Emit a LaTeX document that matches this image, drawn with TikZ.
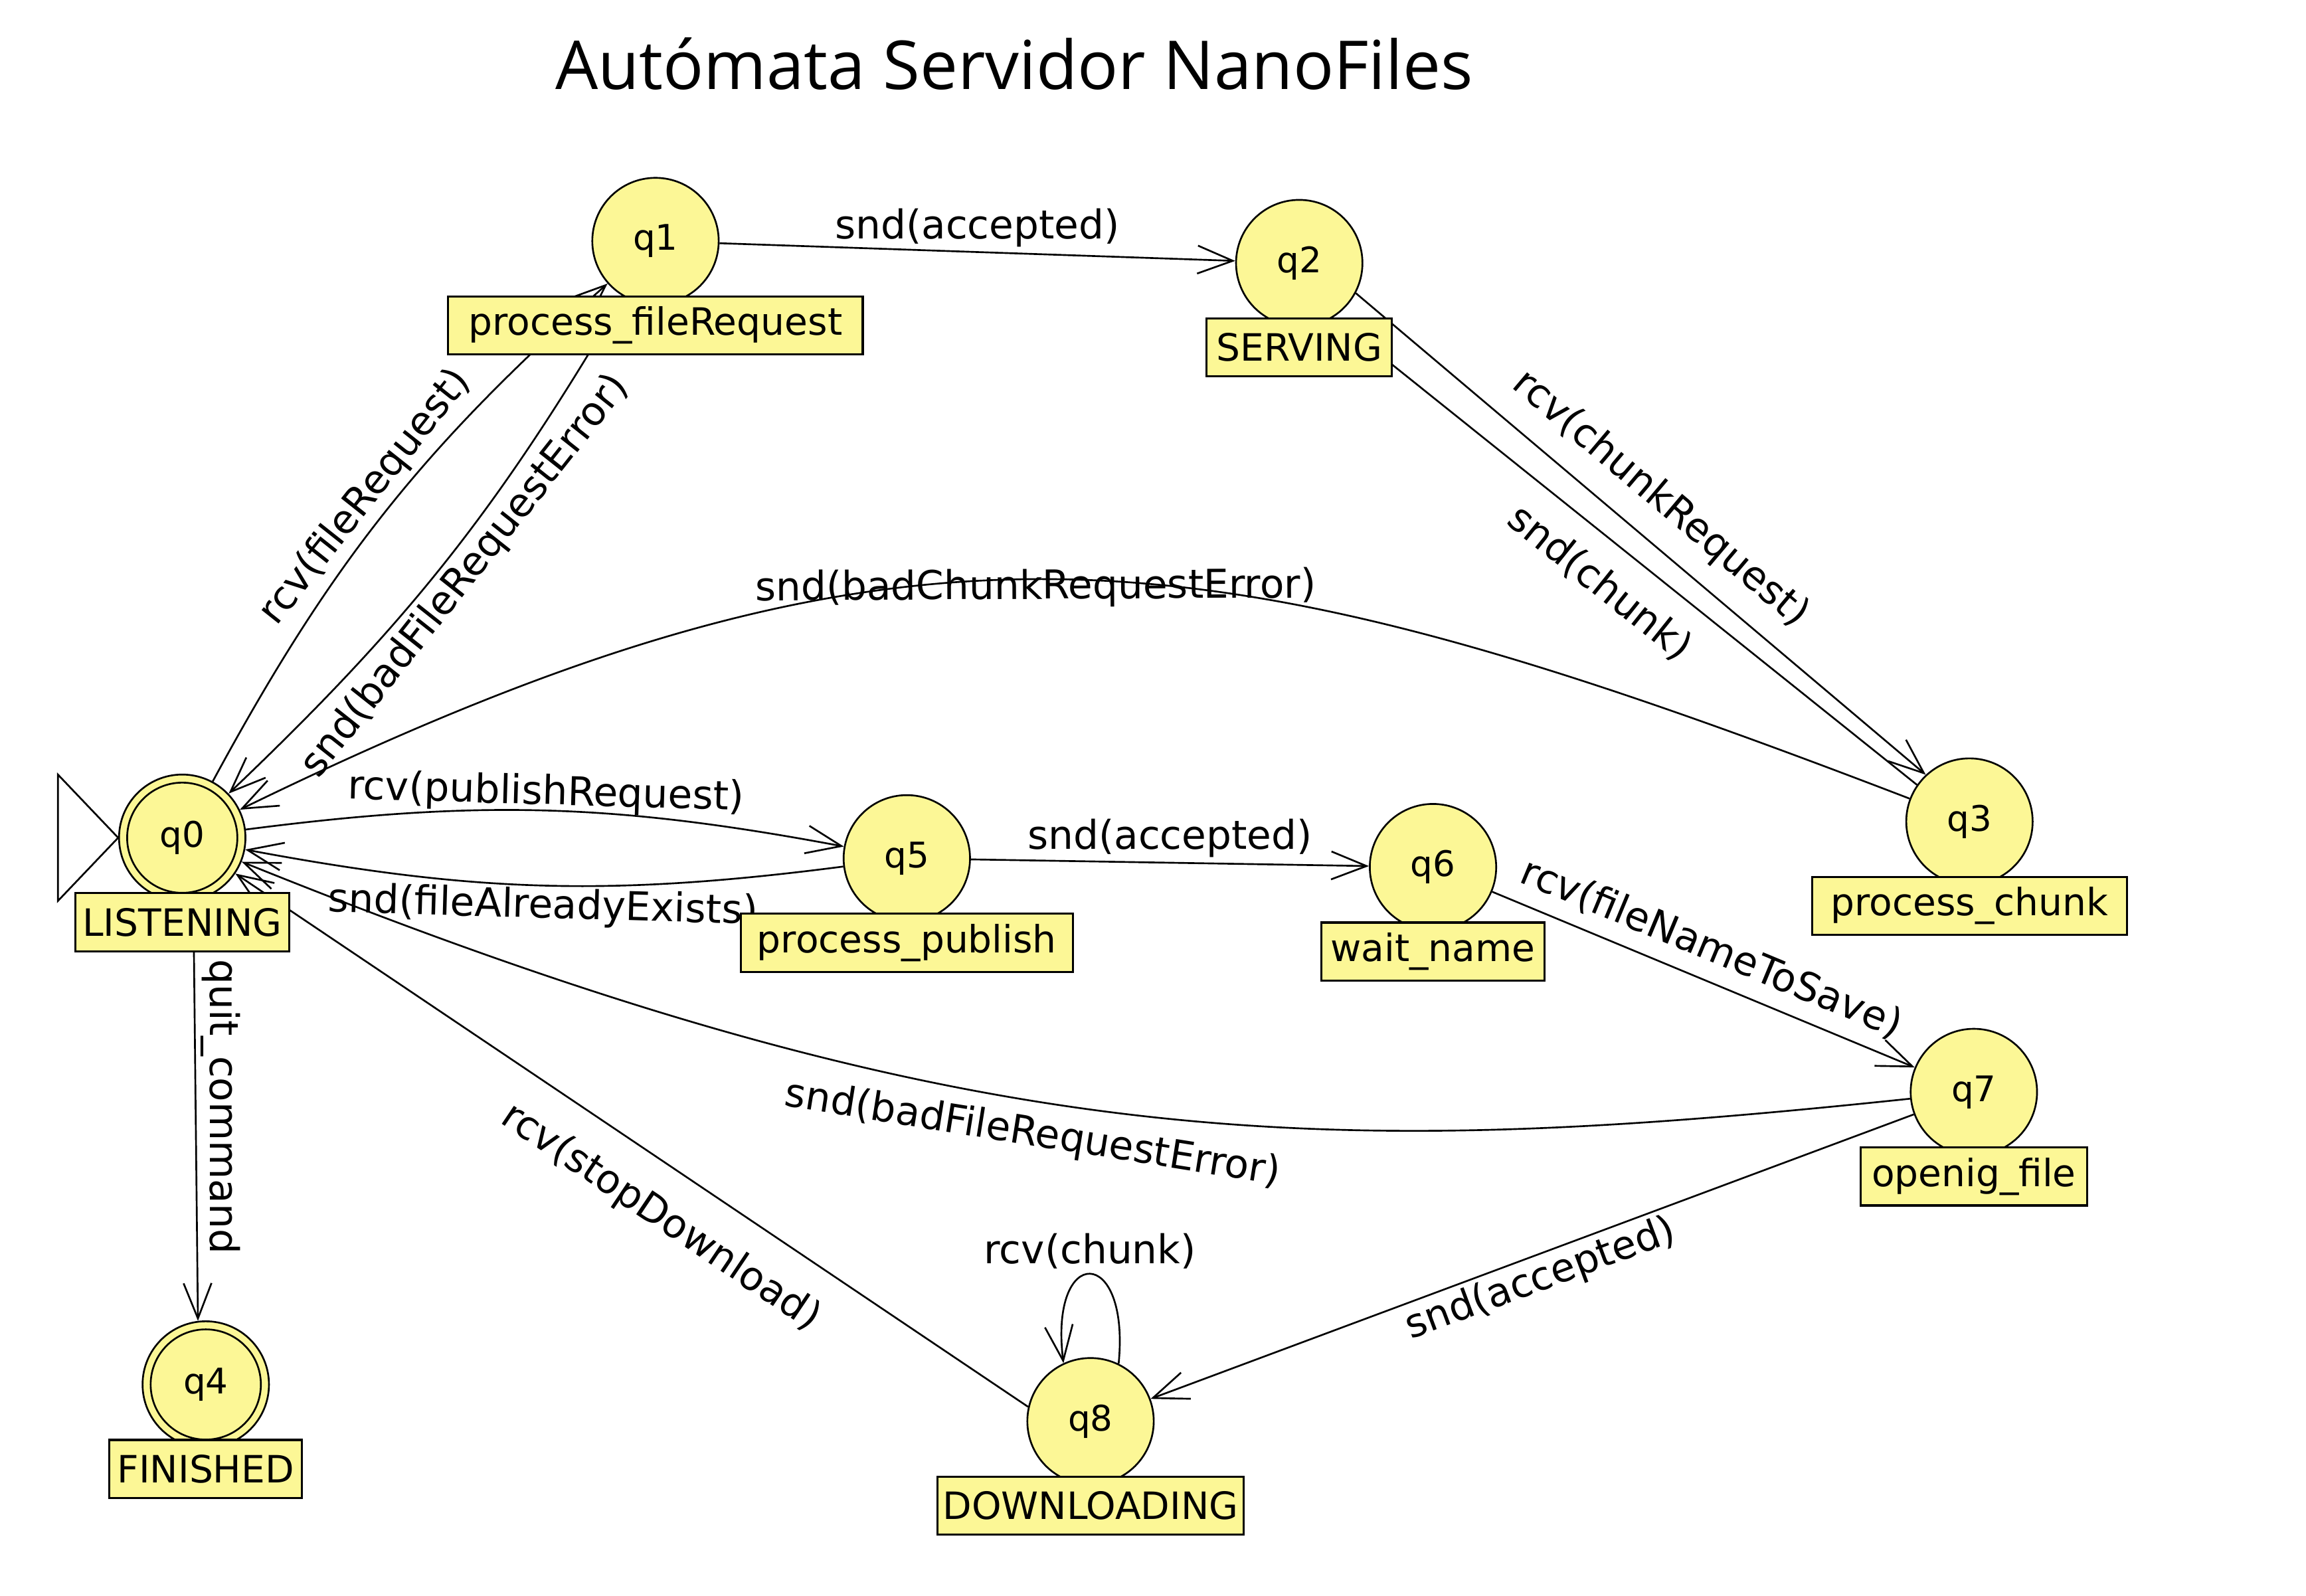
\documentclass[tikz,border=0pt]{standalone}
\usepackage{fontspec}
\setmainfont{DejaVu Sans}
\newfontfamily\titlefont{Open Sans}
\usetikzlibrary{arrows.meta,calc}
\definecolor{stfill}{RGB}{252,247,150}
\pgfdeclarelayer{bg}
\pgfsetlayers{bg,main}
\begin{document}
\begin{tikzpicture}[x=0.5pt,y=0.5pt,
  state/.style={circle,draw,fill=stfill,line width=0.6pt,minimum size=43pt,inner sep=0pt,font=\fontsize{12}{14}\selectfont},
  lbl/.style={rectangle,draw,fill=stfill,line width=0.7pt,minimum height=19.75pt,inner sep=0pt,anchor=north,font=\fontsize{12.8}{15}\selectfont},
  tr/.style={line width=0.6pt,-{Straight Barb[length=12pt,width=9.5pt]}},
  el/.style={font=\fontsize{13.5}{16}\selectfont,inner sep=1.5pt},
  ring/.style={line width=0.6pt},
]
\useasboundingbox (0,0) rectangle (1569,-1085.5);

\node[font=\titlefont\fontsize{22.95}{27}\selectfont,anchor=base] (title) at (690,-60.6) {Autómata Servidor NanoFiles};

% states
\node[state] (q0) at (124,-570) {q0};
\draw[ring] (q0.center) circle[radius=18.75pt];
\node[state] (q1) at (446,-164) {q1};
\node[state] (q2) at (884,-179) {q2};
\node[state] (q3) at (1340,-559) {q3};
\node[state] (q4) at (140,-942) {q4};
\draw[ring] (q4.center) circle[radius=18.75pt];
\node[state] (q5) at (617,-584) {q5};
\node[state] (q6) at (975,-590) {q6};
\node[state] (q7) at (1343,-743) {q7};
\node[state] (q8) at (742,-967) {q8};

% state labels
\node[lbl,minimum width=72.8pt] (l0) at ([yshift=-18.5pt]q0.center) {LISTENING};
\node[lbl,minimum width=141pt] (l1) at ([yshift=-18.5pt]q1.center) {process\_fileRequest};
\node[lbl,minimum width=63pt] (l2) at ([yshift=-18.5pt]q2.center) {SERVING};
\node[lbl,minimum width=107pt] (l3) at ([yshift=-18.5pt]q3.center) {process\_chunk};
\node[lbl,minimum width=65.5pt] (l4) at ([yshift=-18.5pt]q4.center) {FINISHED};
\node[lbl,minimum width=113pt] (l5) at ([yshift=-18.5pt]q5.center) {process\_publish};
\node[lbl,minimum width=76pt] (l6) at ([yshift=-18.5pt]q6.center) {wait\_name};
\node[lbl,minimum width=77pt] (l7) at ([yshift=-18.5pt]q7.center) {openig\_file};
\node[lbl,minimum width=104pt] (l8) at ([yshift=-18.5pt]q8.center) {DOWNLOADING};

% initial marker
\draw[ring] (q0.west) -- ++(-41,43) -- ++(0,-86) -- cycle;

\begin{pgfonlayer}{bg}
\fill[white] (0,0) rectangle (1569,-1085.5);
\draw[tr] (q0) to[bend left=10] node[el,sloped,above] {rcv(fileRequest)} (q1);
\draw[tr] (q1) to[bend left=8] node[el,sloped,below] {snd(badFileRequestError)} (q0);
\draw[tr] (q1) -- node[el,above] {snd(accepted)} (q2);
\draw[tr] (q2.-28) -- node[el,sloped,above=5pt,pos=0.49] {rcv(chunkRequest)} (q3.133);
\draw[tr] (q3.145) -- node[el,sloped,below=6pt,pos=0.5] {snd(chunk)} (q2.-58);
\draw[tr] (q3) to[out=159,in=26,looseness=1.15] node[el,sloped,pos=0.52,yshift=-3pt] {snd(badChunkRequestError)} (q0);
\draw[tr] (q0) to[bend left=9] node[el,sloped,above,yshift=-2.5pt] {rcv(publishRequest)} (q5);
\draw[tr] (q5) to[bend left=9] node[el,sloped,below,yshift=1pt] {snd(fileAlreadyExists)} (q0);
\draw[tr] (q5) -- node[el,above] {snd(accepted)} (q6);
\draw[tr] (q6) -- node[el,sloped,above=3pt,pos=0.49] {rcv(fileNameToSave)} (q7);
\draw[tr] (q7) to[out=186,in=-22,out looseness=0.9,in looseness=1.2] node[el,sloped,below=3pt,pos=0.56] {snd(badFileRequestError)} (q0);
\draw[tr] (q7) -- node[el,sloped,below,pos=0.5] {snd(accepted)} (q8);
\draw[tr] (q8.167) -- node[el,sloped,below=8pt,pos=0.43] {rcv(stopDownload)} (q0.-34);
\draw[tr] (q8.64) .. controls +(8,81) and +(-10,81) .. node[el,above,pos=0.5] {rcv(chunk)} (q8.115);
\draw[tr] (q0.-80) -- node[el,rotate=-90,anchor=south,pos=0.49] {quit\_command} (q4.97);
\end{pgfonlayer}
\end{tikzpicture}
\end{document}
